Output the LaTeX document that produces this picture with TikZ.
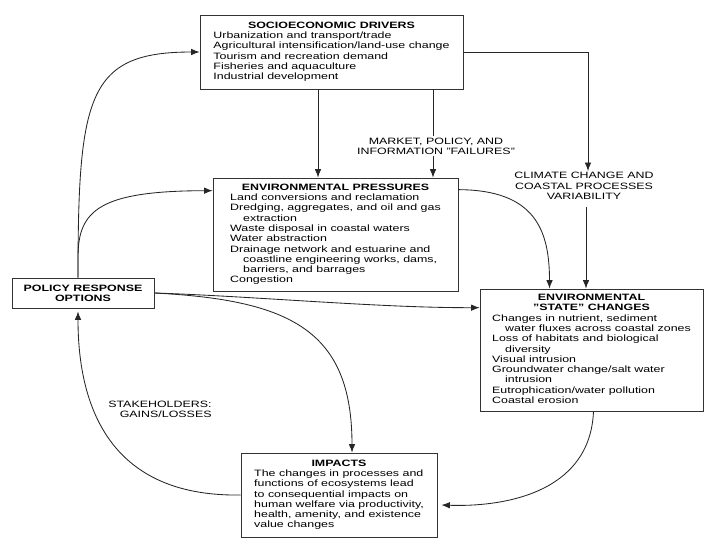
\documentclass[tikz,border=0pt]{standalone}
\usepackage{fontspec}
\setmainfont{Liberation Sans}[FakeStretch=1.35]
\usetikzlibrary{arrows.meta}
\def\hangsep{\hspace*{13pt}}
\newcommand{\boxhead}[1]{\multicolumn{1}{@{}c@{}}{\bfseries #1}}

\begin{document}
\begin{tikzpicture}[x=1pt, y=-1pt, >={Latex[length=8.5pt,width=6.5pt]}, line width=0.85pt]
        \tikzstyle{box}=[draw=black!80, line width=0.7pt, inner sep=0pt, font=\fontsize{9.2}{10.3}\selectfont];
        \tikzstyle{note}=[inner sep=1pt, font=\fontsize{9.2}{10.3}\selectfont];
        \tikzstyle{link}=[->, draw=black!85];
        \useasboundingbox (0,0) rectangle (720,540);

        % socioeconomic drivers
        \node[box, minimum width=263, minimum height=74] (socio) at (331.5,52) {\begin{tabular}{@{}l@{}}
            \boxhead{SOCIOECONOMIC DRIVERS}\\
            Urbanization and transport/trade\\
            Agricultural intensification/land-use change\\
            Tourism and recreation demand\\
            Fisheries and aquaculture\\
            Industrial development
        \end{tabular}};
        % environmental pressures
        \node[box, minimum width=245, minimum height=113] (press) at (335.5,234.5) {\begin{tabular}{@{}l@{}}
            \boxhead{ENVIRONMENTAL PRESSURES}\\
            Land conversions and reclamation\\
            Dredging, aggregates, and oil and gas\\
            \hangsep extraction\\
            Waste disposal in coastal waters\\
            Water abstraction\\
            Drainage network and estuarine and\\
            \hangsep coastline engineering works, dams,\\
            \hangsep barriers, and barrages\\
            Congestion
        \end{tabular}};
        % environmental state changes
        \node[box, minimum width=223, minimum height=122] (state) at (591.5,350) {\begin{tabular}{@{}l@{}}
            \boxhead{ENVIRONMENTAL}\\
            \boxhead{"STATE" CHANGES}\\
            Changes in nutrient, sediment\\
            \hangsep water fluxes across coastal zones\\
            Loss of habitats and biological\\
            \hangsep diversity\\
            Visual intrusion\\
            Groundwater change/salt water\\
            \hangsep intrusion\\
            Eutrophication/water pollution\\
            Coastal erosion
        \end{tabular}};
        % impacts
        \node[box, minimum width=196, minimum height=84] (impact) at (339,495) {\begin{tabular}{@{}l@{}}
            \boxhead{IMPACTS}\\
            The changes in processes and\\
            functions of ecosystems lead\\
            to consequential impacts on\\
            human welfare via productivity,\\
            health, amenity, and existence\\
            value changes
        \end{tabular}};
        % policy response
        \node[box, minimum width=142, minimum height=30, font=\fontsize{9.2}{10.3}\selectfont\bfseries, align=center] (policy) at (83,293) {POLICY RESPONSE\\OPTIONS};

        % labels on the links
        \node[note, align=center] (market) at (436,146) {MARKET, POLICY, AND\\INFORMATION "FAILURES"};
        \node[note, align=center] (climate) at (584,186) {CLIMATE CHANGE AND\\COASTAL PROCESSES\\VARIABILITY};
        \node[note, align=right, anchor=east] (stake) at (213,409) {STAKEHOLDERS:\\GAINS/LOSSES};

        % drivers to pressures and state
        \draw[link] (socio.south -| 318,0) -- (press.north -| 318,0);
        \draw[-, draw=black!85] (socio.south -| 433,0) -- (market.north -| 433,0);
        \draw[link] (market.south -| 433,0) -- (press.north -| 433,0);
        \draw[link] (socio.east) -| ([xshift=4pt]climate.north);
        \draw[link, shorten <=6pt] ([xshift=2pt]climate.south) -- ([xshift=2pt]climate.south |- state.north);
        % pressures to state
        \draw[link] ([yshift=-12pt]press.north east) .. controls (535,190) and (549.5,230) .. ([xshift=-42pt]state.north);
        % state to impacts
        \draw[link] ([xshift=2pt]state.south) .. controls (590,495) and (500,507) .. ([yshift=-10pt, xshift=4pt]impact.east);
        % impacts back to policy
        \draw[link] (impact.west) .. controls (120,497) and (78,420) .. ([xshift=-5pt, yshift=-3pt]policy.south);
        % policy responses
        \draw[link] ([xshift=-5pt]policy.north) .. controls (78,95) and (88,52) .. (socio.west);
        \draw[link] ([xshift=-5pt]policy.north) -- (78,257) .. controls (78,210) and (100,191) .. ([yshift=-13pt]press.north west);
        \draw[link] (policy.east) .. controls (250,296) and (380,308) .. ([yshift=-19pt]state.north west);
        \draw[link] (policy.east) .. controls (290,300) and (352,330) .. ([xshift=13pt]impact.north);
    \end{tikzpicture}
\end{document}
